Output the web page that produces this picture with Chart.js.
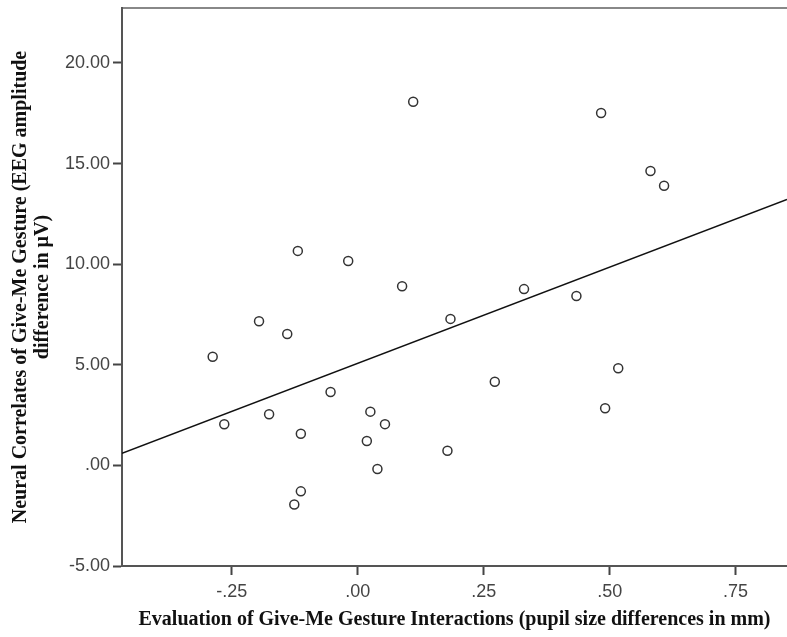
<!DOCTYPE html>
<html>
<head>
<meta charset="utf-8">
<script src="https://cdn.jsdelivr.net/npm/chart.js@4"></script>
<style>
  body { margin: 0; background: #fff; }
  #wrap { width: 787px; height: 637px; }
</style>
</head>
<body>
<div id="wrap"><canvas id="myChart"></canvas></div>
<script>
const pupilDiff = [
  0.110, -0.119, -0.019, 0.088, -0.196, -0.140, 0.184, -0.288, -0.054,
  -0.265, -0.176, -0.113, 0.025, 0.054, 0.018, 0.039, 0.178, -0.113,
  -0.126, 0.272, 0.517, 0.491, 0.483, 0.581, 0.608, 0.330, 0.434,
];
const eegDiff = [
  18.07, 10.66, 10.16, 8.90, 7.16, 6.53, 7.28, 5.40, 3.65,
  2.04, 2.54, 1.57, 2.67, 2.05, 1.21, -0.18, 0.73, -1.29,
  -1.94, 4.16, 4.83, 2.84, 17.51, 14.63, 13.90, 8.76, 8.42,
];
const xTicks = [-0.25, 0, 0.25, 0.5, 0.75];
const yTicks = [-5, 0, 5, 10, 15, 20];
const xRange = [-0.468, 0.852];
const yRange = [-5, 22.73];
// fit line
const fitIntercept = 5.07;
const fitSlope = 9.56;

function fmt(v) {
  return v.toFixed(2).replace(/^(-?)0\./, "$1.");
}

const fitLine = xRange.map(function (x) {
  return { x: x, y: fitIntercept + fitSlope * x };
});

const tickFont = { family: "'Liberation Sans', Arial, sans-serif", size: 18 };
const titleFont = { family: "'Liberation Serif', 'Times New Roman', serif", size: 20, weight: "bold", lineHeight: 1.1 };

new Chart("myChart", {
  type: "scatter",
  data: {
    datasets: [
      {
        data: pupilDiff.map(function (x, i) {
          return { x: x, y: eegDiff[i] };
        }),
        pointStyle: "circle",
        pointRadius: 4.5,
        pointBorderWidth: 1.5,
        pointBorderColor: "#333",
        pointBackgroundColor: "rgba(255,255,255,0)",
      },
      {
        type: "line",
        data: fitLine,
        borderColor: "#111",
        borderWidth: 1.5,
        pointRadius: 0,
        fill: false,
      },
    ],
  },
  options: {
    animation: false,
    responsive: true,
    maintainAspectRatio: false,
    devicePixelRatio: 1,
    layout: { padding: 0, autoPadding: false },
    plugins: {
      legend: { display: false },
      tooltip: { enabled: false },
    },
    scales: {
      x: {
        type: "linear",
        min: xRange[0],
        max: xRange[1],
        afterBuildTicks: function (scale) {
          scale.ticks = xTicks.map(function (v) { return { value: v }; });
        },
        afterFit: function (scale) {
          scale.height = 71;
          scale.paddingLeft = 0;
          scale.paddingRight = 0;
        },
        ticks: {
          callback: fmt,
          font: tickFont,
          color: "#444",
          padding: 6,
          maxRotation: 0,
          autoSkip: false,
        },
        grid: { drawOnChartArea: false, drawTicks: true, tickLength: 9, tickWidth: 2, tickColor: "#444" },
        border: { display: true, color: "#555", width: 2 },
        title: {
          display: true,
          text: "Evaluation of Give-Me Gesture Interactions (pupil size differences in mm)",
          font: titleFont,
          color: "#111",
          padding: { top: 0, bottom: 6 },
        },
      },
      x2: {
        type: "linear",
        position: "top",
        min: xRange[0],
        max: xRange[1],
        afterFit: function (scale) { scale.height = 8; },
        ticks: { display: false },
        grid: { display: false },
        border: { display: true, color: "#888", width: 2 },
      },
      y: {
        type: "linear",
        min: yRange[0],
        max: yRange[1],
        afterBuildTicks: function (scale) {
          scale.ticks = yTicks.map(function (v) { return { value: v }; });
        },
        afterFit: function (scale) {
          scale.width = 122;
          scale.paddingTop = 0;
          scale.paddingBottom = 0;
        },
        ticks: {
          callback: fmt,
          font: tickFont,
          color: "#444",
          padding: 3,
          autoSkip: false,
        },
        grid: { drawOnChartArea: false, drawTicks: true, tickLength: 9, tickWidth: 2, tickColor: "#444" },
        border: { display: true, color: "#555", width: 2 },
        title: {
          display: true,
          text: ["Neural Correlates of Give-Me Gesture (EEG amplitude", "difference in \u00b5V)"],
          font: titleFont,
          color: "#111",
          padding: { top: 10, bottom: 0 },
        },
      },
    },
  },
});
</script>
</body>
</html>
